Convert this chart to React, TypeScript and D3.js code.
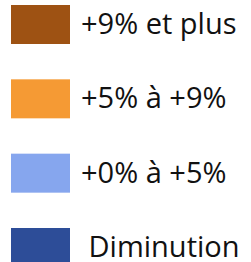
import React from 'react';
import * as d3 from 'd3';

const width = 251;
const height = 262;

const labels = ['+9% et plus', '+5% à +9%', '+0% à +5%', ' Diminution'];
const colors = ['#9E5213', '#F59A34', '#86A6EE', '#2D4D98'];

const App = () => {
  const y = d3.scalePoint<string>().domain(labels).range([5, 228]);
  const swatchW = 59;
  const swatchH = 39;

  return (
    <svg
      width={width}
      height={height}
      style={{ position: 'absolute', left: 0, top: 0, backgroundColor: 'white' }}
    >
      {labels.map((label, i) => (
        <g key={label} transform={`translate(11, ${y(label)})`}>
          <rect width={swatchW} height={swatchH} fill={colors[i]} />
          <text
            x={70}
            y={29}
            fontFamily="'Open Sans', sans-serif"
            fontSize={29}
            fill="#111"
            style={{ whiteSpace: 'pre' }}
          >
            {label}
          </text>
        </g>
      ))}
    </svg>
  );
};

export default App;
